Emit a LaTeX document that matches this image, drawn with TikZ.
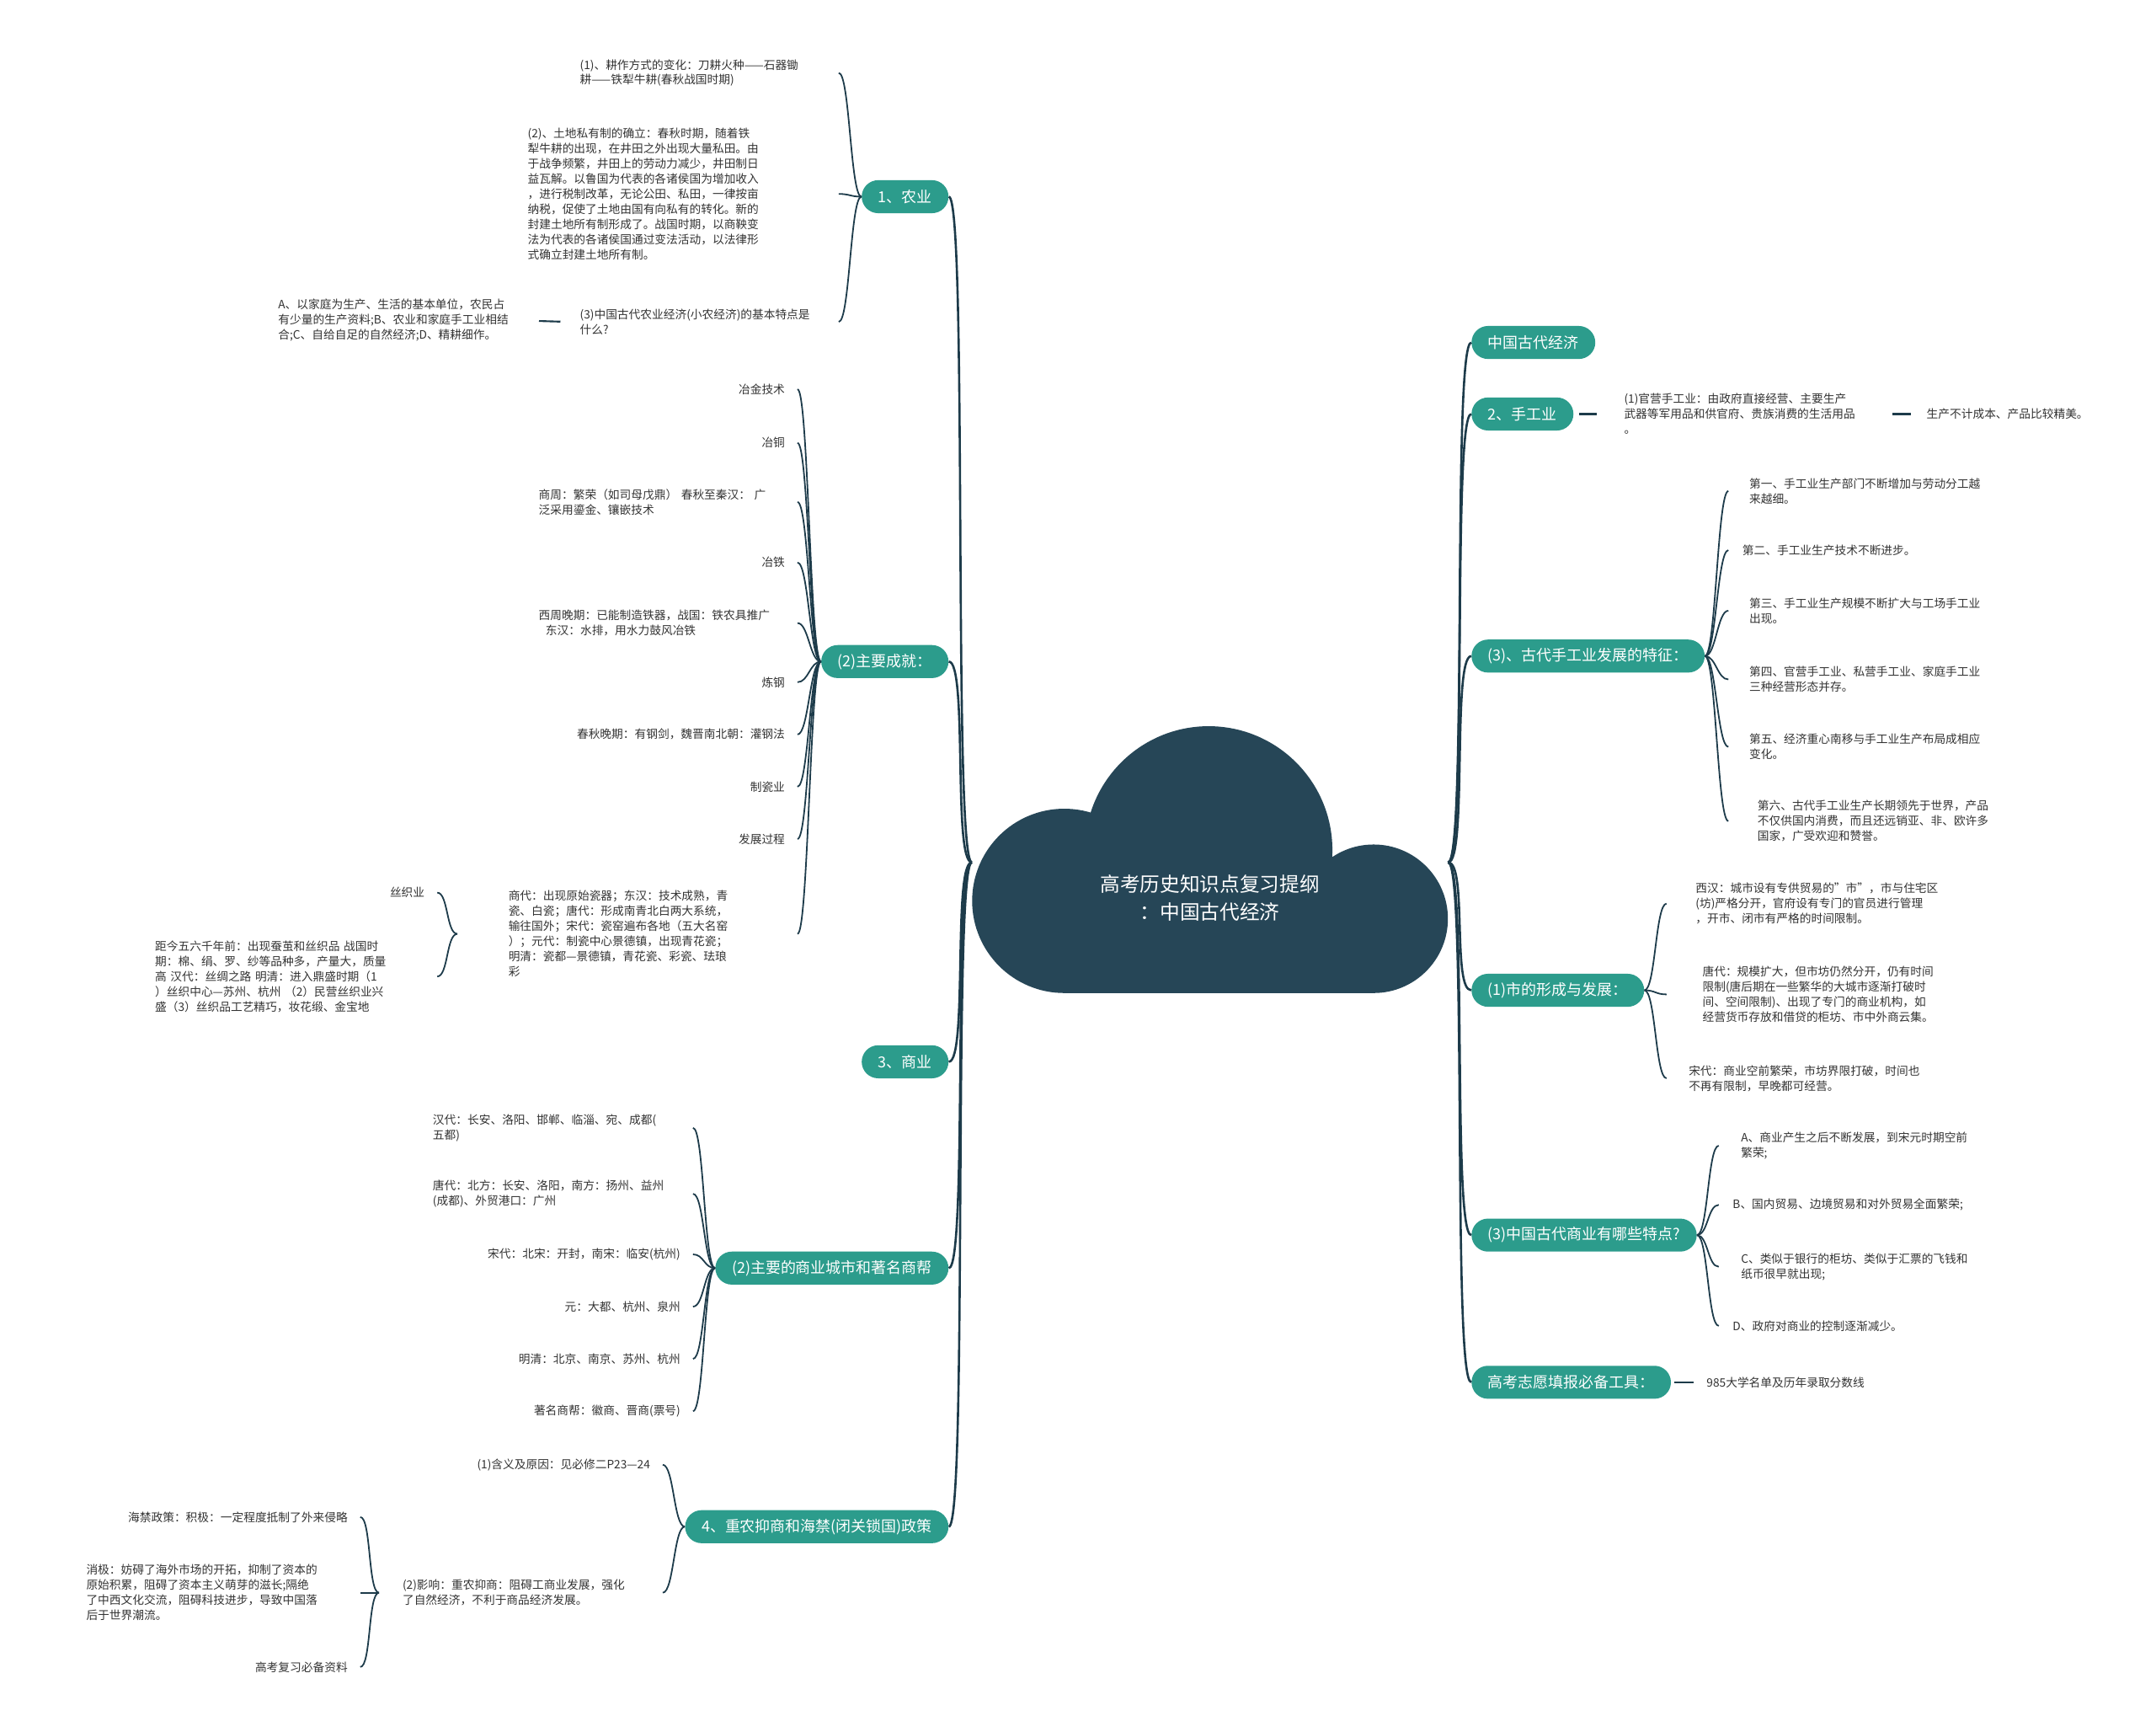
\documentclass[tikz,border=0pt]{standalone}
\usepackage{fontspec}
\setmainfont{Noto Sans CJK SC}
\definecolor{topicgreen}{HTML}{2C9C8C}
\definecolor{cloudblue}{HTML}{264657}
\definecolor{linkblue}{HTML}{1D3B4A}
\definecolor{leaftext}{HTML}{333333}

\begin{document}
\begin{tikzpicture}[x=1pt, y=-1pt,
    topic/.style={rectangle, rounded corners=12pt, fill=topicgreen, text=white,
      minimum height=24pt, inner xsep=12pt, inner ysep=0pt, font=\fontsize{11}{13}\selectfont},
    leaf/.style={align=left, text=leaftext, inner xsep=9pt, inner ysep=1pt,
      font=\fontsize{8.4}{11}\selectfont},
    trunk/.style={draw=linkblue, line width=1.6pt},
    link/.style={draw=linkblue, line width=1.1pt},
    stub/.style={draw=linkblue, line width=1.3pt}]

\fill[white] (0,0) rectangle (1568,1259);
\useasboundingbox (0,0) rectangle (1568,1259);

\fill[cloudblue] (774,655) circle[radius=67];
\fill[cloudblue] (879,618) circle[radius=90];
\fill[cloudblue] (999,668) circle[radius=54];
\fill[cloudblue] (774,640) rectangle (999,722);
\node[minimum width=346pt, minimum height=195pt, inner sep=0pt] (root) at (880,627) {};
\node[text=white, align=center, font=\fontsize{14.5}{20}\selectfont] (title) at (880,653) {高考历史知识点复习提纲\\：中国古代经济};

\node[topic, anchor=east] (agri) at (690,143) {1、农业};
\node[topic, anchor=east] (achv) at (690,481) {(2)主要成就：};
\node[topic, anchor=east] (comm) at (690,772) {3、商业};
\node[topic, anchor=east] (city) at (690,922) {(2)主要的商业城市和著名商帮};
\node[topic, anchor=east] (policy) at (690,1110) {4、重农抑商和海禁(闭关锁国)政策};

\node[topic, anchor=west] (econ) at (1070,249) {中国古代经济};
\node[topic, anchor=west] (craft) at (1070,301) {2、手工业};
\node[topic, anchor=west] (feat) at (1070,477) {(3)、古代手工业发展的特征：};
\node[topic, anchor=west] (mkt) at (1070,720) {(1)市的形成与发展：};
\node[topic, anchor=west] (trade) at (1070,898) {(3)中国古代商业有哪些特点?};
\node[topic, anchor=west] (tool) at (1070,1005) {高考志愿填报必备工具：};

\foreach \t in {agri,achv,comm,city,policy}
  \draw[trunk] (root.west) .. controls +(-14,0) and +(14,0) .. (\t.east);
\foreach \t in {econ,craft,feat,mkt,trade,tool}
  \draw[trunk] (root.east) .. controls +(14,0) and +(-14,0) .. (\t.west);

\node[leaf, anchor=east, text width=179pt] (agri1) at (610,53) {(1)、耕作方式的变化：刀耕火种——石器锄\\耕——铁犁牛耕(春秋战国时期)};
\node[leaf, anchor=east, text width=217pt] (agri2) at (610,141) {(2)、土地私有制的确立：春秋时期，随着铁\\犁牛耕的出现，在井田之外出现大量私田。由\\于战争频繁，井田上的劳动力减少，井田制日\\益瓦解。以鲁国为代表的各诸侯国为增加收入\\，进行税制改革，无论公田、私田，一律按亩\\纳税，促使了土地由国有向私有的转化。新的\\封建土地所有制形成了。战国时期，以商鞅变\\法为代表的各诸侯国通过变法活动，以法律形\\式确立封建土地所有制。};
\node[leaf, anchor=east, text width=179pt] (agri3) at (610,234) {(3)中国古代农业经济(小农经济)的基本特点是\\什么?};
\node[leaf, anchor=east] (agriA) at (379,233) {A、以家庭为生产、生活的基本单位，农民占\\有少量的生产资料;B、农业和家庭手工业相结\\合;C、自给自足的自然经济;D、精耕细作。};

\foreach \c in {agri1,agri2,agri3}
  \draw[link] (agri.west) .. controls +(-8,0) and +(8,0) .. (\c.east);
\draw[stub, shorten <=5pt, shorten >=13pt] (agri3.west) -- (agriA.east);

\node[leaf, anchor=east] (metal) at (580,283) {冶金技术};
\node[leaf, anchor=east] (copper) at (580,322) {冶铜};
\node[leaf, anchor=east, text width=179pt] (shang) at (580,365) {商周：繁荣（如司母戊鼎） 春秋至秦汉： 广\\泛采用鎏金、镶嵌技术};
\node[leaf, anchor=east] (iron) at (580,409) {冶铁};
\node[leaf, anchor=east, text width=179pt] (xizhou) at (580,453) {西周晚期：已能制造铁器，战国：铁农具推广\\\hspace*{0.6em}东汉：水排，用水力鼓风冶铁};
\node[leaf, anchor=east] (steel) at (580,496) {炼钢};
\node[leaf, anchor=east] (chunqiu) at (580,534) {春秋晚期：有钢剑，魏晋南北朝：灌钢法};
\node[leaf, anchor=east] (porc) at (580,572) {制瓷业};
\node[leaf, anchor=east] (proc) at (580,610) {发展过程};
\node[leaf, anchor=east, inner xsep=37pt, text width=173pt] (ceramic) at (580,679) {商代：出现原始瓷器；东汉：技术成熟，青\\瓷、白瓷；唐代：形成南青北白两大系统，\\输往国外；宋代：瓷窑遍布各地（五大名窑\\）；元代：制瓷中心景德镇，出现青花瓷；\\明清：瓷都—景德镇，青花瓷、彩瓷、珐琅\\彩};

\foreach \c in {metal,copper,shang,iron,xizhou,steel,chunqiu,porc,proc,ceramic}
  \draw[link] (achv.west) .. controls +(-8,0) and +(8,0) .. (\c.east);

\node[leaf, anchor=east] (silk) at (318,649) {丝织业};
\node[leaf, anchor=east, text width=196pt] (silkhist) at (318,710) {距今五六千年前：出现蚕茧和丝织品 战国时\\期：棉、绢、罗、纱等品种多，产量大，质量\\高 汉代：丝绸之路 明清：进入鼎盛时期（1\\）丝织中心—苏州、杭州 （2）民营丝织业兴\\盛（3）丝织品工艺精巧，妆花缎、金宝地};

\foreach \c in {silk,silkhist}
  \draw[link] (ceramic.west) .. controls +(-8,0) and +(8,0) .. (\c.east);

\node[leaf, anchor=east, text width=180pt] (han) at (504,820) {汉代：长安、洛阳、邯郸、临淄、宛、成都(\\五都)};
\node[leaf, anchor=east, text width=180pt] (tang) at (504,868) {唐代：北方：长安、洛阳，南方：扬州、益州\\(成都)、外贸港口：广州};
\node[leaf, anchor=east] (song) at (504,912) {宋代：北宋：开封，南宋：临安(杭州)};
\node[leaf, anchor=east] (yuan) at (504,950) {元：大都、杭州、泉州};
\node[leaf, anchor=east] (mingqing) at (504,988) {明清：北京、南京、苏州、杭州};
\node[leaf, anchor=east] (bang) at (504,1026) {著名商帮：徽商、晋商(票号)};

\foreach \c in {han,tang,song,yuan,mingqing,bang}
  \draw[link] (city.west) .. controls +(-8,0) and +(8,0) .. (\c.east);

\node[leaf, anchor=east] (hanyi) at (482,1065) {(1)含义及原因：见必修二P23—24};
\node[leaf, anchor=east, inner xsep=17pt, text width=172pt] (yingx) at (482,1158) {(2)影响：重农抑商：阻碍工商业发展，强化\\了自然经济，不利于商品经济发展。};
\node[leaf, anchor=east] (haijin) at (262,1103) {海禁政策：积极：一定程度抵制了外来侵略};
\node[leaf, anchor=east, text width=190pt] (xiaoji) at (262,1158) {消极：妨碍了海外市场的开拓，抑制了资本的\\原始积累，阻碍了资本主义萌芽的滋长;隔绝\\了中西文化交流，阻碍科技进步，导致中国落\\后于世界潮流。};
\node[leaf, anchor=east] (ziliao) at (262,1212) {高考复习必备资料};

\foreach \c in {hanyi,yingx}
  \draw[link] (policy.west) .. controls +(-8,0) and +(8,0) .. (\c.east);
\foreach \c in {haijin,xiaoji,ziliao}
  \draw[link] (yingx.west) .. controls +(-8,0) and +(8,0) .. (\c.east);

\node[leaf, anchor=west, text width=172pt] (guan) at (1172,301) {(1)官营手工业：由政府直接经营、主要生产\\武器等军用品和供官府、贵族消费的生活用品\\。};
\node[leaf, anchor=west] (cost) at (1392,301) {生产不计成本、产品比较精美。};
\draw[stub, shorten <=4pt, shorten >=11pt] (craft.east) -- (guan.west);
\draw[stub, shorten <=14pt, shorten >=2pt] (guan.east) -- (cost.west);

\node[leaf, anchor=west, inner xsep=15pt] (f1) at (1257,357) {第一、手工业生产部门不断增加与劳动分工越\\来越细。};
\node[leaf, anchor=west, inner xsep=10pt] (f2) at (1257,400) {第二、手工业生产技术不断进步。};
\node[leaf, anchor=west, inner xsep=15pt] (f3) at (1257,444) {第三、手工业生产规模不断扩大与工场手工业\\出现。};
\node[leaf, anchor=west, inner xsep=15pt] (f4) at (1257,494) {第四、官营手工业、私营手工业、家庭手工业\\三种经营形态并存。};
\node[leaf, anchor=west, inner xsep=15pt] (f5) at (1257,543) {第五、经济重心南移与手工业生产布局成相应\\变化。};
\node[leaf, anchor=west, inner xsep=21pt] (f6) at (1257,597) {第六、古代手工业生产长期领先于世界，产品\\不仅供国内消费，而且还远销亚、非、欧许多\\国家，广受欢迎和赞誉。};

\foreach \c in {f1,f2,f3,f4,f5,f6}
  \draw[link] (feat.east) .. controls +(8,0) and +(-8,0) .. (\c.west);

\node[leaf, anchor=west, inner xsep=21pt] (xihan) at (1212,657) {西汉：城市设有专供贸易的"市"，市与住宅区\\(坊)严格分开，官府设有专门的官员进行管理\\，开市、闭市有严格的时间限制。};
\node[leaf, anchor=west, inner xsep=26pt] (tangdai) at (1212,723) {唐代：规模扩大，但市坊仍然分开，仍有时间\\限制(唐后期在一些繁华的大城市逐渐打破时\\间、空间限制)、出现了专门的商业机构，如\\经营货币存放和借贷的柜坊、市中外商云集。};
\node[leaf, anchor=west, inner xsep=16pt] (songdai) at (1212,784) {宋代：商业空前繁荣，市坊界限打破，时间也\\不再有限制，早晚都可经营。};

\foreach \c in {xihan,tangdai,songdai}
  \draw[link] (mkt.east) .. controls +(8,0) and +(-8,0) .. (\c.west);

\node[leaf, anchor=west, inner xsep=16pt] (tA) at (1250,833) {A、商业产生之后不断发展，到宋元时期空前\\繁荣;};
\node[leaf, anchor=west, inner xsep=10pt] (tB) at (1250,876) {B、国内贸易、边境贸易和对外贸易全面繁荣;};
\node[leaf, anchor=west, inner xsep=16pt] (tC) at (1250,921) {C、类似于银行的柜坊、类似于汇票的飞钱和\\纸币很早就出现;};
\node[leaf, anchor=west, inner xsep=10pt] (tD) at (1250,964) {D、政府对商业的控制逐渐减少。};

\foreach \c in {tA,tB,tC,tD}
  \draw[link] (trade.east) .. controls +(8,0) and +(-8,0) .. (\c.west);

\node[leaf, anchor=west] (yr985) at (1232,1005) {985大学名单及历年录取分数线};
\draw[stub, shorten <=2pt] (tool.east) -- (yr985.west);
\end{tikzpicture}
\end{document}
